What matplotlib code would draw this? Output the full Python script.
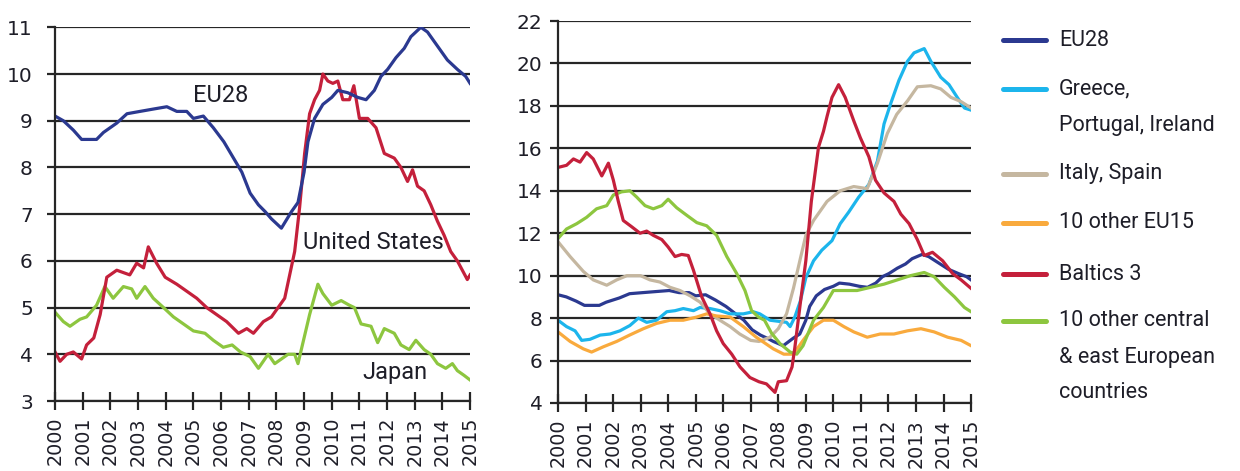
import matplotlib
matplotlib.use("Agg")
import matplotlib.pyplot as plt

# ---- data ----
years_axis = list(range(2000, 2016))

eu28_x = [2000.0, 2000.3, 2000.66, 2000.96, 2001.5, 2001.75, 2002.23, 2002.6, 2003.07, 2003.55,
          2004.04, 2004.4, 2004.76, 2005.0, 2005.36, 2005.72, 2006.1, 2006.4, 2006.75, 2007.05,
          2007.35, 2007.6, 2007.82, 2008.18, 2008.54, 2008.78, 2009.0, 2009.14, 2009.38, 2009.68,
          2010.0, 2010.22, 2010.58, 2010.94, 2011.24, 2011.54, 2011.78, 2012.02, 2012.32, 2012.62,
          2012.86, 2013.22, 2013.46, 2013.82, 2014.18, 2014.54, 2014.84, 2015.0]
eu28_y = [9.1, 9.0, 8.8, 8.6, 8.6, 8.75, 8.95, 9.15, 9.2, 9.25,
          9.3, 9.2, 9.2, 9.05, 9.1, 8.85, 8.55, 8.25, 7.9, 7.45,
          7.2, 7.05, 6.9, 6.7, 7.05, 7.25, 7.9, 8.55, 9.05, 9.35,
          9.5, 9.65, 9.6, 9.5, 9.45, 9.65, 9.95, 10.1, 10.35, 10.55,
          10.8, 11.0, 10.9, 10.6, 10.3, 10.1, 9.95, 9.8]

us_x = [2000.0, 2000.18, 2000.42, 2000.66, 2000.96, 2001.14, 2001.4, 2001.63, 2001.87, 2002.23,
        2002.7, 2002.95, 2003.2, 2003.37, 2003.67, 2003.98, 2004.4, 2004.76, 2005.12, 2005.48,
        2005.84, 2006.2, 2006.63, 2006.93, 2007.17, 2007.53, 2007.82, 2008.06, 2008.3, 2008.48,
        2008.66, 2008.84, 2009.02, 2009.2, 2009.38, 2009.56, 2009.68, 2009.86, 2010.04, 2010.22,
        2010.4, 2010.64, 2010.8, 2011.0, 2011.3, 2011.6, 2011.9, 2012.26, 2012.5, 2012.74,
        2012.92, 2013.1, 2013.34, 2013.58, 2013.82, 2014.06, 2014.3, 2014.54, 2014.72, 2014.9, 2015.0]
us_y = [4.05, 3.85, 4.0, 4.05, 3.9, 4.2, 4.35, 4.85, 5.65, 5.8,
        5.7, 5.95, 5.85, 6.3, 5.95, 5.65, 5.5, 5.35, 5.2, 5.0,
        4.85, 4.7, 4.45, 4.55, 4.45, 4.7, 4.8, 5.0, 5.2, 5.7,
        6.2, 7.15, 8.3, 9.15, 9.45, 9.65, 10.0, 9.85, 9.8, 9.85,
        9.45, 9.45, 9.75, 9.05, 9.05, 8.85, 8.3, 8.2, 8.0, 7.7,
        7.95, 7.6, 7.5, 7.2, 6.85, 6.55, 6.2, 6.0, 5.8, 5.6, 5.7]

japan_x = [2000.0, 2000.3, 2000.54, 2000.9, 2001.14, 2001.5, 2001.8, 2002.1, 2002.47, 2002.77,
           2002.95, 2003.25, 2003.55, 2003.92, 2004.28, 2004.64, 2005.0, 2005.42, 2005.72, 2006.08,
           2006.4, 2006.7, 2007.05, 2007.35, 2007.7, 2007.94, 2008.18, 2008.42, 2008.66, 2008.78,
           2009.0, 2009.2, 2009.5, 2009.68, 2010.0, 2010.34, 2010.64, 2010.82, 2011.06, 2011.42,
           2011.66, 2011.9, 2012.26, 2012.5, 2012.8, 2013.04, 2013.34, 2013.58, 2013.82, 2014.12,
           2014.36, 2014.54, 2014.78, 2015.0]
japan_y = [4.9, 4.7, 4.6, 4.75, 4.8, 5.05, 5.45, 5.2, 5.45, 5.4,
           5.2, 5.45, 5.2, 5.0, 4.8, 4.65, 4.5, 4.45, 4.3, 4.15,
           4.2, 4.05, 3.95, 3.7, 4.0, 3.8, 3.9, 4.0, 4.0, 3.8,
           4.35, 4.85, 5.5, 5.3, 5.05, 5.15, 5.05, 5.0, 4.65, 4.6,
           4.25, 4.55, 4.45, 4.2, 4.1, 4.3, 4.1, 4.0, 3.8, 3.7,
           3.8, 3.65, 3.55, 3.45]

gpi_x = [2000.0, 2000.31, 2000.62, 2000.86, 2001.16, 2001.53, 2001.89, 2002.25, 2002.61, 2002.92,
         2003.22, 2003.58, 2003.95, 2004.25, 2004.55, 2004.92, 2005.16, 2005.52, 2005.88, 2006.25,
         2006.73, 2007.09, 2007.33, 2007.7, 2008.3, 2008.43, 2008.6, 2008.8, 2009.0, 2009.28,
         2009.58, 2009.95, 2010.25, 2010.56, 2010.92, 2011.29, 2011.6, 2011.84, 2012.08, 2012.38,
         2012.69, 2012.93, 2013.3, 2013.54, 2013.9, 2014.2, 2014.5, 2014.76, 2015.0]
gpi_y = [7.9, 7.6, 7.4, 6.95, 7.0, 7.2, 7.25, 7.4, 7.65, 8.0,
         7.8, 7.9, 8.3, 8.35, 8.45, 8.35, 8.5, 8.45, 8.35, 8.2,
         8.2, 8.3, 8.2, 7.9, 7.8, 7.6, 8.05, 8.8, 9.9, 10.7,
         11.2, 11.65, 12.45, 13.0, 13.7, 14.3, 15.4, 17.15, 18.1, 19.2,
         20.1, 20.5, 20.7, 20.1, 19.35, 19.0, 18.4, 17.9, 17.8]

itsp_x = [2000.0, 2000.44, 2000.92, 2001.28, 2001.77, 2002.13, 2002.5, 2003.0, 2003.34, 2003.7,
          2004.07, 2004.43, 2004.8, 2005.16, 2005.52, 2005.88, 2006.25, 2006.6, 2007.0, 2007.3,
          2007.7, 2008.0, 2008.3, 2008.55, 2008.8, 2009.0, 2009.28, 2009.77, 2010.25, 2010.74,
          2011.23, 2011.6, 2011.96, 2012.3, 2012.7, 2013.05, 2013.54, 2013.9, 2014.27, 2014.64, 2015.0]
itsp_y = [11.6, 10.9, 10.2, 9.8, 9.55, 9.8, 10.0, 10.0, 9.8, 9.7,
          9.45, 9.3, 9.05, 8.75, 8.2, 7.9, 7.6, 7.25, 6.95, 6.9,
          7.1, 7.5, 8.2, 9.4, 10.8, 11.9, 12.6, 13.5, 14.0, 14.2,
          14.1, 15.3, 16.7, 17.6, 18.25, 18.9, 18.95, 18.8, 18.4, 18.2, 17.9]

eu15_x = [2000.0, 2000.44, 2000.92, 2001.22, 2001.65, 2002.13, 2002.6, 2003.1, 2003.58, 2004.07,
          2004.55, 2005.04, 2005.4, 2005.76, 2006.25, 2006.73, 2007.2, 2007.82, 2008.2, 2008.55,
          2008.9, 2009.28, 2009.64, 2010.0, 2010.38, 2010.74, 2011.23, 2011.7, 2012.2, 2012.69,
          2013.18, 2013.66, 2014.15, 2014.64, 2015.0]
eu15_y = [7.35, 6.9, 6.55, 6.4, 6.65, 6.9, 7.2, 7.5, 7.75, 7.9,
          7.9, 8.05, 8.2, 8.1, 8.05, 7.6, 7.1, 6.55, 6.3, 6.3,
          6.95, 7.6, 7.9, 7.9, 7.6, 7.35, 7.1, 7.25, 7.25, 7.4,
          7.5, 7.35, 7.1, 6.95, 6.7]

baltic_x = [2000.0, 2000.31, 2000.56, 2000.8, 2001.04, 2001.28, 2001.59, 2001.83, 2002.01, 2002.19,
            2002.37, 2002.68, 2002.98, 2003.22, 2003.46, 2003.77, 2004.0, 2004.25, 2004.49, 2004.73,
            2004.92, 2005.22, 2005.52, 2005.76, 2006.0, 2006.31, 2006.61, 2006.97, 2007.3, 2007.57,
            2007.88, 2008.0, 2008.3, 2008.5, 2008.6, 2008.8, 2009.0, 2009.2, 2009.46, 2009.64,
            2009.77, 2009.95, 2010.19, 2010.43, 2010.74, 2010.98, 2011.29, 2011.53, 2011.84, 2012.2,
            2012.45, 2012.75, 2013.05, 2013.3, 2013.6, 2013.97, 2014.33, 2014.64, 2015.0]
baltic_y = [15.1, 15.2, 15.5, 15.35, 15.8, 15.5, 14.7, 15.3, 14.5, 13.5,
            12.6, 12.3, 12.0, 12.1, 11.9, 11.7, 11.35, 10.9, 11.0, 10.95,
            10.25, 9.0, 8.2, 7.4, 6.8, 6.3, 5.7, 5.2, 5.0, 4.9,
            4.5, 5.0, 5.05, 5.7, 6.6, 8.7, 10.7, 13.5, 16.05, 16.8,
            17.5, 18.4, 19.0, 18.4, 17.3, 16.5, 15.6, 14.5, 13.9, 13.5,
            12.9, 12.45, 11.7, 10.95, 11.1, 10.7, 10.1, 9.8, 9.4]

cee_x = [2000.0, 2000.31, 2000.68, 2001.04, 2001.4, 2001.77, 2002.01, 2002.31, 2002.61, 2002.86,
         2003.16, 2003.46, 2003.77, 2004.0, 2004.31, 2004.67, 2005.04, 2005.4, 2005.76, 2006.13,
         2006.49, 2006.79, 2007.03, 2007.28, 2007.5, 2007.75, 2008.06, 2008.43, 2008.67, 2008.9,
         2009.28, 2009.64, 2010.0, 2010.38, 2010.86, 2011.35, 2011.84, 2012.32, 2012.8, 2013.3,
         2013.66, 2014.03, 2014.4, 2014.76, 2015.0]
cee_y = [11.75, 12.2, 12.45, 12.75, 13.15, 13.3, 13.8, 13.95, 14.0, 13.7,
         13.3, 13.15, 13.3, 13.6, 13.2, 12.85, 12.5, 12.35, 11.9, 10.9,
         10.1, 9.3, 8.35, 8.05, 7.9, 7.3, 6.8, 6.4, 6.3, 6.7,
         7.9, 8.5, 9.3, 9.3, 9.3, 9.45, 9.6, 9.8, 10.0, 10.15,
         9.95, 9.45, 9.0, 8.5, 8.3]

legend_labels = [["EU28"], ["Greece,", "Portugal, Ireland"], ["Italy, Spain"],
                 ["10 other EU15"], ["Baltics 3"],
                 ["10 other central", "& east European", "countries"]]

NAVY = "#2B3990"
LBLUE = "#1CB5EC"
TAN = "#C5B7A0"
ORANGE = "#F9AA3D"
RED = "#C4203B"
GREEN = "#8DC63F"
TXT = "#1e1e28"
GRID = "#262626"

plt.rcParams["font.family"] = ["DejaVu Sans"]
NARROW = ["Liberation Sans Narrow", "Roboto", "DejaVu Sans"]

fig = plt.figure(figsize=(12.4, 4.71), dpi=100)


def style(ax, ymin, ymax, ystep, ypad):
    ax.set_xlim(2000, 2015)
    ax.set_ylim(ymin, ymax)
    ax.set_yticks(range(ymin, ymax + 1, ystep))
    ax.set_xticks(years_axis)
    ax.set_xticklabels([str(y) for y in years_axis], rotation=90)
    ax.grid(axis="y", color=GRID, lw=1.6)
    ax.set_axisbelow(True)
    for s in ["top", "right"]:
        ax.spines[s].set_visible(False)
    for s in ["left", "bottom"]:
        ax.spines[s].set_color(GRID)
        ax.spines[s].set_linewidth(1.6)
    ax.tick_params(axis="x", direction="inout", length=13, width=1.6, color=GRID,
                   labelsize=13.8, labelcolor=TXT, pad=5)
    ax.tick_params(axis="y", direction="out", length=6, width=1.6, color=GRID,
                   labelsize=14.5, labelcolor=TXT, pad=ypad)
    ax.patch.set_alpha(0)


LW = 2.3

# ---- left panel ----
ax1 = fig.add_axes([0.0444, 0.1486, 0.3347, 0.7934])
style(ax1, 3, 11, 1, 10)
ax1.plot(japan_x, japan_y, color=GREEN, lw=LW)
ax1.plot(us_x, us_y, color=RED, lw=LW)
ax1.plot(eu28_x, eu28_y, color=NAVY, lw=LW)
ax1.text(2005.0, 9.54, "EU28", family=NARROW, fontsize=17, color=TXT, va="center")
ax1.text(2008.96, 6.39, "United States", family=NARROW, fontsize=17, color=TXT, va="center")
ax1.text(2011.12, 3.61, "Japan", family=NARROW, fontsize=17, color=TXT, va="center")

# ---- right panel ----
ax2 = fig.add_axes([0.45, 0.1444, 0.3331, 0.811])
style(ax2, 4, 22, 2, 5)
series = [(eu28_x, eu28_y, NAVY), (gpi_x, gpi_y, LBLUE), (itsp_x, itsp_y, TAN),
          (eu15_x, eu15_y, ORANGE), (cee_x, cee_y, GREEN), (baltic_x, baltic_y, RED)]
for xs, ys, c in series:
    ax2.plot(xs, ys, color=c, lw=LW)

# ---- legend (pixel layout axes) ----
leg = fig.add_axes([0, 0, 1, 1])
leg.set_xlim(0, 1240)
leg.set_ylim(471, 0)
leg.axis("off")
leg_colors = [NAVY, LBLUE, TAN, ORANGE, RED, GREEN]
first_rows = [40, 89, 174, 223, 274, 321]
row_pitch = 36
for lines, c, y0 in zip(legend_labels, leg_colors, first_rows):
    leg.plot([1003, 1046], [y0, y0], color=c, lw=3.6, solid_capstyle="round")
    for k, t in enumerate(lines):
        leg.text(1059, y0 + k * row_pitch, t, family=NARROW, fontsize=15.5,
                 color=TXT, va="center", ha="left")

fig.savefig("out.png", dpi=100)
